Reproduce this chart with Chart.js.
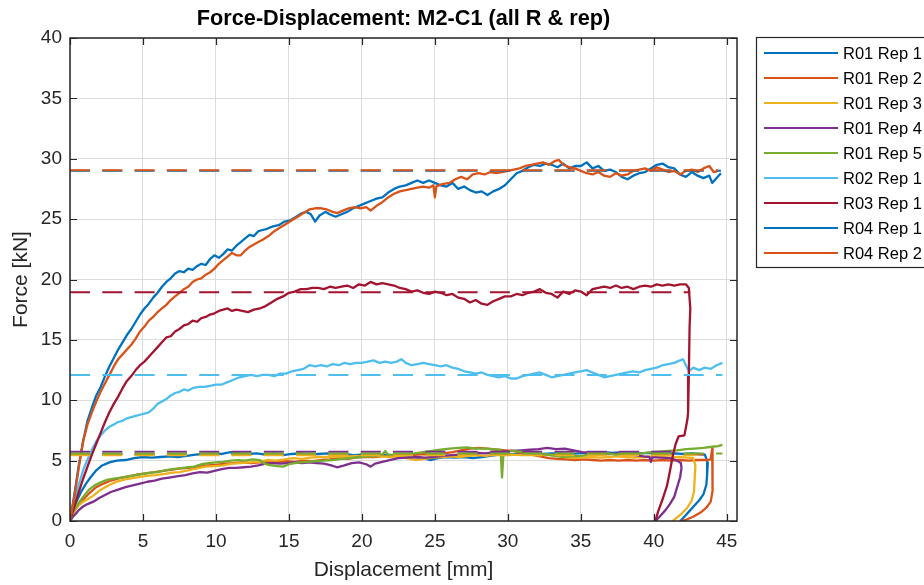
<!DOCTYPE html>
<html>
<head>
<meta charset="utf-8">
<title>Force-Displacement: M2-C1</title>
<script src="https://cdn.jsdelivr.net/npm/chart.js@4.4.0/dist/chart.umd.min.js"></script>
<style>
  html, body { margin: 0; padding: 0; background: #fff; }
  #wrap { position: relative; width: 924px; height: 585px; }
</style>
</head>
<body>
<div id="wrap"><canvas id="chartForceDisp"></canvas></div>
<script>
// ===== DATA =====

const seriesLabels = ['R01 Rep 1', 'R01 Rep 2', 'R01 Rep 3', 'R01 Rep 4', 'R01 Rep 5', 'R02 Rep 1', 'R03 Rep 1', 'R04 Rep 1', 'R04 Rep 2'];
const seriesColors = ['#0072BD', '#D95319', '#EDB120', '#7E2F8E', '#77AC30', '#4DBEEE', '#A2142F', '#0072BD', '#D95319'];

const xTickValues = [0, 5, 10, 15, 20, 25, 30, 35, 40, 45];
const yTickValues = [0, 5, 10, 15, 20, 25, 30, 35, 40];

// displacement [mm], force [kN]
const R01_REP1 = [[0,0],[0.2,0.9],[0.4,1.5],[0.6,2.0],[0.8,2.5],[1.1,3.1],[1.4,3.6],[1.8,4.2],[2.2,4.6],[2.7,4.85],[3.2,5.0],[3.8,5.05],[4.4,5.2],[5.0,5.3],[5.6,5.25],[6.2,5.3],[6.8,5.35],[7.4,5.3],[8.0,5.4],[8.6,5.5],[9.2,5.55],[9.8,5.6],[10.4,5.55],[11.0,5.7],[11.6,5.6],[12.2,5.55],[12.8,5.6],[13.4,5.5],[14.0,5.6],[14.6,5.45],[15.2,5.55],[15.8,5.6],[16.4,5.5],[17.0,5.55],[17.6,5.6],[18.2,5.5],[18.8,5.55],[19.4,5.45],[20.0,5.5],[20.6,5.55],[21.2,5.45],[21.8,5.5],[22.4,5.4],[23.0,5.45],[23.6,5.3],[24.2,5.2],[24.7,5.05],[25.2,5.2],[25.8,5.3],[26.4,5.25],[27.0,5.3],[27.6,5.2],[28.2,5.3],[28.8,5.4],[29.4,5.5],[30.0,5.5],[30.6,5.55],[31.2,5.5],[31.8,5.6],[32.4,5.55],[33.0,5.6],[33.6,5.6],[34.2,5.55],[34.8,5.6],[35.4,5.65],[36.0,5.6],[36.6,5.7],[37.2,5.65],[37.8,5.7],[38.4,5.65],[39.0,5.6],[39.6,5.65],[40.2,5.6],[40.8,5.55],[41.4,5.6],[42.0,5.55],[42.6,5.6],[43.1,5.55],[43.5,5.5],[43.7,4.8],[43.65,3.8],[43.6,3.0],[43.4,2.2],[43.1,1.7],[42.8,1.3],[42.5,0.9],[42.2,0.5],[41.9,0.1],[41.8,0]];

const R01_REP2 = [[0,0],[0.2,0.6],[0.4,1.0],[0.7,1.5],[1.0,1.9],[1.4,2.4],[1.8,2.8],[2.3,3.1],[2.8,3.35],[3.4,3.55],[4.0,3.7],[4.6,3.85],[5.2,3.95],[5.8,4.05],[6.4,4.15],[7.0,4.25],[7.6,4.35],[8.2,4.4],[8.8,4.5],[9.4,4.6],[10.0,4.65],[10.6,4.75],[11.2,4.8],[11.8,4.85],[12.4,4.8],[13.0,4.85],[13.6,4.9],[14.2,4.9],[14.8,4.95],[15.4,4.9],[16.0,5.0],[16.6,4.95],[17.2,5.05],[17.8,5.1],[18.4,5.2],[19.0,5.15],[19.6,5.25],[20.2,5.3],[20.8,5.3],[21.4,5.35],[22.0,5.4],[22.6,5.35],[23.2,5.45],[23.8,5.5],[24.4,5.55],[25.0,5.5],[25.6,5.6],[26.2,5.7],[26.8,5.85],[27.4,6.0],[28.0,6.05],[28.6,6.0],[29.2,5.9],[29.8,5.85],[30.4,5.8],[31.0,5.6],[31.6,5.5],[32.2,5.35],[32.8,5.2],[33.4,5.15],[34.0,5.1],[34.6,5.05],[35.2,5.1],[35.8,5.05],[36.4,5.0],[37.0,5.05],[37.6,5.0],[38.2,5.05],[38.8,5.0],[39.4,5.05],[40.0,5.0],[40.6,5.05],[41.2,5.0],[41.8,5.05],[42.4,5.0],[43.0,5.05],[43.6,5.05],[43.9,5.1],[44.0,6.0],[44.05,4.0],[44.0,2.5],[43.9,1.6],[43.6,1.1],[43.2,0.7],[42.7,0.35],[42.2,0.1],[41.9,0]];

const R01_REP3 = [[0,0],[0.2,0.6],[0.4,1.0],[0.6,1.3],[0.9,1.6],[1.2,1.8],[1.6,2.1],[2.0,2.5],[2.4,2.8],[2.8,3.05],[3.3,3.3],[3.8,3.45],[4.3,3.55],[4.8,3.65],[5.4,3.75],[5.9,3.8],[6.5,3.9],[7.0,4.0],[7.5,4.05],[8.1,4.2],[8.7,4.35],[9.3,4.5],[9.9,4.55],[10.5,4.6],[11.1,4.75],[11.7,4.8],[12.3,4.85],[12.9,4.9],[13.5,5.05],[14.1,5.0],[14.7,5.1],[15.3,5.2],[15.9,5.15],[16.5,5.25],[17.1,5.3],[17.7,5.3],[18.3,5.35],[18.9,5.3],[19.5,5.4],[20.1,5.35],[20.7,5.4],[21.3,5.35],[21.9,5.3],[22.5,5.35],[23.1,5.2],[23.7,5.05],[24.3,5.15],[24.9,5.25],[25.5,5.3],[26.1,5.35],[26.7,5.3],[27.3,5.4],[27.9,5.45],[28.5,5.4],[29.1,5.5],[29.7,5.45],[30.3,5.5],[30.9,5.45],[31.5,5.5],[32.1,5.45],[32.7,5.5],[33.3,5.45],[33.9,5.3],[34.5,5.2],[35.1,5.25],[35.7,5.3],[36.3,5.25],[36.9,5.3],[37.5,5.35],[38.1,5.3],[38.7,5.25],[39.3,5.3],[39.9,5.35],[40.5,5.3],[41.1,5.25],[41.7,5.3],[42.3,5.25],[42.7,5.2],[42.85,4.6],[42.8,3.5],[42.75,2.4],[42.6,1.7],[42.3,1.1],[41.9,0.6],[41.5,0.2],[41.3,0]];

const R01_REP4 = [[0,0],[0.2,0.35],[0.4,0.6],[0.6,0.9],[0.9,1.2],[1.2,1.4],[1.6,1.6],[2.0,1.9],[2.4,2.15],[2.8,2.4],[3.3,2.6],[3.8,2.8],[4.3,2.95],[4.8,3.1],[5.3,3.25],[5.8,3.35],[6.3,3.5],[6.8,3.6],[7.3,3.7],[7.9,3.8],[8.4,3.95],[8.9,4.05],[9.4,4.0],[9.9,4.15],[10.4,4.3],[10.9,4.4],[11.4,4.4],[11.9,4.45],[12.4,4.5],[12.9,4.6],[13.4,4.75],[13.9,4.8],[14.4,4.75],[14.9,4.8],[15.4,4.85],[15.9,4.8],[16.4,4.85],[16.9,4.8],[17.4,4.75],[17.9,4.6],[18.3,4.45],[18.8,4.6],[19.3,4.8],[19.8,4.85],[20.3,4.7],[20.6,4.5],[20.9,4.75],[21.4,4.9],[21.9,5.05],[22.5,5.2],[23.1,5.25],[23.7,5.3],[24.3,5.25],[24.9,5.3],[25.5,5.4],[26.1,5.45],[26.7,5.5],[27.3,5.6],[27.9,5.65],[28.5,5.6],[29.1,5.7],[29.7,5.75],[30.3,5.8],[30.9,5.85],[31.5,5.9],[32.1,5.95],[32.7,6.05],[33.3,5.95],[33.9,6.0],[34.5,5.85],[35.1,5.7],[35.7,5.65],[36.3,5.6],[36.9,5.55],[37.5,5.6],[38.1,5.5],[38.7,5.45],[39.3,5.35],[39.7,5.3],[39.8,4.9],[39.9,5.3],[40.5,5.25],[41.1,5.2],[41.6,5.0],[41.85,4.8],[41.9,4.4],[41.8,3.6],[41.6,2.8],[41.4,2.0],[41.1,1.4],[40.8,0.9],[40.5,0.5],[40.2,0.1],[40.1,0]];

const R01_REP5 = [[0,0],[0.2,0.7],[0.4,1.1],[0.6,1.5],[0.9,2.0],[1.3,2.6],[1.7,2.95],[2.1,3.2],[2.5,3.4],[3.0,3.5],[3.5,3.6],[4.0,3.7],[4.5,3.8],[5.0,3.9],[5.5,4.0],[6.0,4.05],[6.5,4.2],[7.0,4.3],[7.5,4.35],[8.0,4.45],[8.5,4.5],[9.0,4.7],[9.5,4.8],[10.0,4.85],[10.5,4.9],[11.0,5.0],[11.5,5.05],[12.0,5.0],[12.5,5.1],[13.0,5.05],[13.4,4.7],[13.8,4.6],[14.2,4.55],[14.6,4.5],[15.0,4.7],[15.4,4.8],[15.8,4.85],[16.2,4.9],[16.8,4.95],[17.4,5.0],[18.0,5.05],[18.6,5.15],[19.2,5.2],[19.8,5.3],[20.4,5.35],[21.0,5.4],[21.4,5.5],[21.6,5.8],[21.8,5.45],[22.4,5.5],[23.0,5.55],[23.6,5.6],[24.2,5.7],[24.8,5.8],[25.4,5.9],[26.0,6.0],[26.6,6.05],[27.2,6.1],[27.8,6.0],[28.4,6.0],[29.0,5.95],[29.5,5.9],[29.6,3.6],[29.7,5.6],[30.2,5.8],[30.8,5.75],[31.4,5.7],[32.0,5.6],[32.6,5.5],[33.2,5.4],[33.8,5.3],[34.4,5.35],[35.0,5.4],[35.6,5.5],[36.2,5.55],[36.8,5.6],[37.4,5.5],[38.0,5.6],[38.6,5.55],[39.2,5.6],[39.8,5.7],[40.4,5.75],[41.0,5.8],[41.6,5.85],[42.2,5.95],[42.8,6.0],[43.4,6.05],[44.0,6.15],[44.4,6.2],[44.7,6.3]];

const R02_REP1 = [[0,0],[0.3,1.6],[0.6,3.0],[0.9,4.2],[1.2,5.1],[1.5,5.9],[1.8,6.6],[2.1,7.1],[2.4,7.5],[2.7,7.8],[3.0,8.0],[3.3,8.2],[3.6,8.3],[3.9,8.5],[4.2,8.6],[4.5,8.7],[4.8,8.8],[5.1,8.9],[5.4,9.0],[5.7,9.3],[6.0,9.7],[6.3,9.9],[6.6,10.1],[6.9,10.4],[7.2,10.6],[7.5,10.7],[7.8,10.9],[8.1,10.8],[8.4,11.0],[8.8,11.1],[9.2,11.1],[9.6,11.2],[10.0,11.3],[10.4,11.3],[10.8,11.5],[11.2,11.7],[11.6,11.9],[12.0,12.0],[12.4,12.1],[12.8,12.0],[13.2,12.1],[13.6,12.1],[14.0,12.0],[14.4,12.2],[14.8,12.2],[15.2,12.4],[15.6,12.5],[16.0,12.6],[16.4,12.9],[16.8,12.8],[17.2,12.9],[17.6,12.8],[18.0,13.0],[18.4,12.9],[18.8,13.1],[19.2,13.0],[19.6,13.1],[20.0,13.1],[20.4,13.2],[20.8,13.3],[21.2,13.1],[21.6,13.2],[22.0,13.1],[22.4,13.2],[22.7,13.4],[23.0,13.1],[23.4,12.9],[23.8,13.0],[24.2,13.1],[24.6,13.0],[25.0,12.9],[25.4,12.8],[25.8,12.9],[26.2,12.7],[26.6,12.6],[27.0,12.4],[27.4,12.3],[27.8,12.2],[28.2,12.3],[28.6,12.1],[29.0,12.0],[29.4,11.9],[29.8,12.0],[30.2,11.8],[30.6,11.8],[31.0,12.0],[31.4,12.1],[31.8,12.2],[32.2,12.3],[32.6,12.1],[33.0,11.9],[33.4,12.0],[33.8,12.1],[34.2,12.2],[34.6,12.3],[35.0,12.4],[35.4,12.5],[35.8,12.3],[36.2,12.1],[36.6,11.9],[37.0,12.0],[37.4,12.1],[37.8,12.2],[38.2,12.3],[38.6,12.4],[39.0,12.3],[39.4,12.5],[39.8,12.6],[40.2,12.7],[40.6,12.9],[41.0,13.0],[41.4,13.1],[41.8,13.3],[42.0,13.4],[42.2,12.9],[42.4,12.4],[42.7,12.7],[43.1,12.5],[43.5,12.7],[43.9,12.6],[44.3,12.9],[44.7,13.1]];

const R03_REP1 = [[0,0],[0.3,1.2],[0.6,2.4],[0.9,3.5],[1.2,4.5],[1.5,5.5],[1.8,6.4],[2.1,7.3],[2.4,8.2],[2.7,9.0],[3.0,9.7],[3.3,10.3],[3.6,11.0],[3.9,11.6],[4.2,12.0],[4.5,12.5],[4.8,12.9],[5.1,13.2],[5.4,13.6],[5.7,14.0],[6.0,14.4],[6.3,14.8],[6.6,15.2],[6.9,15.3],[7.2,15.7],[7.5,15.9],[7.8,16.2],[8.1,16.3],[8.4,16.6],[8.7,16.5],[9.0,16.8],[9.3,16.9],[9.6,17.1],[9.9,17.2],[10.2,17.4],[10.5,17.5],[10.8,17.6],[11.1,17.4],[11.4,17.5],[11.8,17.4],[12.2,17.3],[12.6,17.5],[13.0,17.6],[13.4,17.8],[13.8,18.1],[14.2,18.4],[14.6,18.6],[15.0,18.9],[15.4,19.0],[15.8,19.2],[16.2,19.2],[16.6,19.3],[17.0,19.3],[17.4,19.2],[17.8,19.4],[18.2,19.3],[18.6,19.4],[19.0,19.5],[19.4,19.3],[19.8,19.6],[20.2,19.5],[20.6,19.8],[21.0,19.6],[21.4,19.7],[21.8,19.6],[22.2,19.5],[22.6,19.3],[23.0,19.2],[23.4,19.0],[23.8,19.1],[24.2,18.9],[24.6,18.8],[25.0,19.0],[25.4,18.9],[25.8,18.7],[26.2,18.8],[26.6,18.5],[27.0,18.4],[27.4,18.1],[27.8,18.3],[28.2,18.0],[28.6,17.9],[29.0,18.2],[29.4,18.4],[29.8,18.6],[30.2,18.6],[30.6,18.8],[31.0,18.7],[31.4,18.9],[31.8,19.0],[32.2,19.2],[32.6,18.9],[33.0,18.8],[33.4,18.5],[33.8,19.0],[34.2,18.8],[34.6,19.1],[35.0,19.0],[35.4,18.7],[35.8,19.2],[36.2,19.3],[36.6,19.4],[37.0,19.3],[37.4,19.5],[37.8,19.3],[38.2,19.4],[38.6,19.2],[39.0,19.4],[39.4,19.5],[39.8,19.4],[40.2,19.6],[40.6,19.5],[41.0,19.6],[41.4,19.5],[41.8,19.6],[42.2,19.6],[42.4,19.3],[42.5,17.6],[42.45,16.0],[42.4,12.0],[42.35,9.0],[42.3,8.4],[42.1,7.1],[41.7,7.0],[41.5,6.4],[41.3,5.4],[41.1,4.1],[40.9,2.9],[40.6,1.8],[40.3,0.8],[40.1,0]];

const R04_REP1 = [[0,0],[0.3,2.2],[0.6,4.6],[0.9,6.6],[1.2,8.3],[1.5,9.4],[1.8,10.4],[2.1,11.1],[2.4,12.0],[2.7,12.8],[3.0,13.5],[3.3,14.2],[3.6,14.8],[3.9,15.4],[4.2,15.9],[4.5,16.5],[4.8,17.1],[5.1,17.6],[5.4,18.0],[5.7,18.5],[6.0,18.9],[6.3,19.4],[6.6,19.8],[6.9,20.1],[7.2,20.5],[7.5,20.7],[7.8,20.6],[8.1,20.9],[8.4,20.8],[8.7,21.1],[9.0,21.3],[9.3,21.2],[9.6,21.7],[9.9,22.0],[10.2,21.8],[10.5,22.1],[10.8,22.5],[11.1,22.4],[11.4,22.8],[11.7,23.1],[12.0,23.4],[12.3,23.7],[12.6,23.6],[12.9,24.0],[13.2,24.1],[13.5,24.2],[13.9,24.4],[14.3,24.5],[14.7,24.8],[15.1,24.9],[15.5,25.2],[15.9,25.5],[16.2,25.6],[16.5,25.4],[16.8,24.8],[17.1,25.3],[17.5,25.6],[17.8,25.4],[18.2,25.2],[18.6,25.4],[19.0,25.6],[19.4,25.9],[19.8,26.1],[20.2,26.3],[20.6,26.5],[21.0,26.7],[21.4,26.8],[21.8,27.2],[22.2,27.5],[22.6,27.7],[23.0,27.8],[23.4,28.0],[23.8,28.2],[24.2,28.0],[24.6,28.2],[25.0,28.0],[25.4,27.8],[25.8,27.7],[26.2,28.0],[26.6,27.5],[27.0,27.7],[27.4,27.4],[27.8,27.2],[28.2,27.3],[28.6,27.0],[29.0,27.3],[29.4,27.5],[29.8,27.8],[30.2,28.3],[30.6,28.8],[31.0,29.0],[31.4,29.3],[31.8,29.5],[32.2,29.4],[32.6,29.6],[33.0,29.5],[33.4,29.3],[33.8,29.6],[34.2,29.2],[34.6,29.4],[35.0,29.4],[35.4,29.7],[35.8,29.2],[36.2,29.4],[36.6,29.0],[37.0,29.1],[37.4,28.9],[37.8,28.5],[38.2,28.3],[38.6,28.6],[39.0,28.8],[39.4,28.9],[39.8,29.2],[40.2,29.5],[40.6,29.6],[41.0,29.3],[41.4,29.2],[41.8,28.7],[42.2,28.5],[42.6,28.9],[43.0,28.6],[43.4,28.4],[43.8,28.6],[44.0,28.0],[44.3,28.4],[44.6,28.8]];

const R04_REP2 = [[0,0],[0.3,2.0],[0.6,4.4],[0.9,6.6],[1.2,8.0],[1.5,9.0],[1.8,9.9],[2.1,10.7],[2.4,11.4],[2.7,12.1],[3.0,12.8],[3.3,13.4],[3.6,13.8],[3.9,14.2],[4.2,14.6],[4.5,15.1],[4.8,15.7],[5.1,16.1],[5.4,16.6],[5.7,16.9],[6.0,17.3],[6.3,17.6],[6.6,17.9],[6.9,18.3],[7.2,18.6],[7.5,18.9],[7.8,19.2],[8.1,19.4],[8.4,19.8],[8.7,20.0],[9.0,20.1],[9.3,20.4],[9.6,20.6],[9.9,20.9],[10.2,21.3],[10.5,21.6],[10.8,21.9],[11.1,22.2],[11.4,22.0],[11.7,22.0],[12.0,22.4],[12.3,22.7],[12.6,22.9],[12.9,23.1],[13.2,23.3],[13.6,23.6],[14.0,24.0],[14.4,24.3],[14.8,24.6],[15.2,24.9],[15.6,25.2],[16.0,25.5],[16.4,25.8],[16.8,25.9],[17.2,25.9],[17.6,25.8],[18.0,25.6],[18.3,25.5],[18.7,25.7],[19.1,25.9],[19.5,26.0],[19.9,25.9],[20.3,26.0],[20.6,25.7],[21.0,26.1],[21.4,26.4],[21.8,26.8],[22.2,27.1],[22.6,27.3],[23.0,27.4],[23.4,27.5],[23.8,27.6],[24.2,27.7],[24.6,27.6],[24.9,27.8],[25.0,26.8],[25.1,27.7],[25.5,27.9],[26.0,28.0],[26.4,28.3],[26.8,28.5],[27.2,28.3],[27.6,28.7],[28.0,28.8],[28.4,28.7],[28.8,28.9],[29.2,28.8],[29.6,28.9],[30.0,29.0],[30.4,29.1],[30.8,29.2],[31.2,29.4],[31.6,29.5],[32.0,29.6],[32.4,29.7],[32.8,29.5],[33.2,29.8],[33.5,29.9],[33.8,29.5],[34.2,29.3],[34.6,29.2],[35.0,29.0],[35.4,28.8],[35.8,28.7],[36.2,28.9],[36.6,28.6],[37.0,28.5],[37.4,28.8],[37.8,28.6],[38.2,28.7],[38.6,29.0],[39.0,29.1],[39.4,29.2],[39.8,29.0],[40.2,29.3],[40.6,29.1],[41.0,28.9],[41.4,29.0],[41.8,28.7],[42.2,29.0],[42.6,29.1],[43.0,28.9],[43.4,29.2],[43.8,29.4],[44.1,28.9],[44.4,29.0]];

const seriesPoints = [R01_REP1, R01_REP2, R01_REP3, R01_REP4, R01_REP5, R02_REP1, R03_REP1, R04_REP1, R04_REP2];

// plateau force (dashed) per series and where each dashed line stops
const meanLevels = [5.55, 5.5, 5.45, 5.74, 5.6, 12.09, 18.94, 29.0, 29.05];
const meanEnds = [43.7, 44.05, 42.85, 41.9, 44.7, 44.7, 42.5, 44.6, 44.4];

// ===== CHART =====

const FONT = "'Liberation Sans', Arial, Helvetica, sans-serif";
const AXIS_INK = '#262626';

const datasets = [];
seriesPoints.forEach((pts, i) => {
  datasets.push({
    label: seriesLabels[i],
    data: pts.map(([x, y]) => ({ x, y })),
    borderColor: seriesColors[i],
    borderWidth: 2.3,
    showLine: true, pointRadius: 0, tension: 0,
    borderJoinStyle: 'round'
  });
});
meanLevels.forEach((lvl, i) => {
  datasets.push({
    label: seriesLabels[i] + ' mean',
    data: [{ x: 0, y: lvl }, { x: meanEnds[i], y: lvl }],
    borderColor: seriesColors[i],
    borderWidth: 2,
    borderDash: [20, 12.3],
    showLine: true, pointRadius: 0, tension: 0
  });
});
// later datasets paint over earlier ones
datasets.forEach((d, i) => { d.order = datasets.length - i; });

// box, inward ticks, title and legend
const frameAndLegend = {
  id: 'frameAndLegend',
  afterDraw(chart) {
    const { ctx, chartArea: a, scales } = chart;
    ctx.save();

    ctx.strokeStyle = AXIS_INK;
    ctx.lineWidth = 1.5;
    ctx.strokeRect(a.left, a.top, a.right - a.left, a.bottom - a.top);

    const tl = 7;
    ctx.lineWidth = 1.2;
    ctx.beginPath();
    xTickValues.forEach(v => {
      const px = Math.round(scales.x.getPixelForValue(v)) + 0.5;
      ctx.moveTo(px, a.bottom); ctx.lineTo(px, a.bottom - tl);
      ctx.moveTo(px, a.top); ctx.lineTo(px, a.top + tl);
    });
    yTickValues.forEach(v => {
      const py = Math.round(scales.y.getPixelForValue(v)) + 0.5;
      ctx.moveTo(a.left, py); ctx.lineTo(a.left + tl, py);
      ctx.moveTo(a.right, py); ctx.lineTo(a.right - tl, py);
    });
    ctx.stroke();

    // title
    ctx.fillStyle = '#000';
    ctx.font = 'bold 21.7px ' + FONT;
    ctx.textAlign = 'center';
    ctx.textBaseline = 'middle';
    ctx.fillText('Force-Displacement: M2-C1 (all R & rep)', (a.left + a.right) / 2, 19);

    // legend
    const lx = 756.5, ly = 37.5, rowH = 25, firstRow = 53;
    ctx.fillStyle = '#fff';
    ctx.fillRect(lx, ly, 220, 230);
    ctx.strokeStyle = AXIS_INK;
    ctx.lineWidth = 1.2;
    ctx.strokeRect(lx, ly, 220, 230);
    ctx.font = '16.5px ' + FONT;
    ctx.textAlign = 'left';
    seriesLabels.forEach((lab, i) => {
      const y = firstRow + i * rowH;
      ctx.strokeStyle = seriesColors[i];
      ctx.lineWidth = 2;
      ctx.beginPath();
      ctx.moveTo(764, y); ctx.lineTo(838, y);
      ctx.stroke();
      ctx.fillStyle = '#000';
      ctx.fillText(lab, 843, y + 1);
    });
    ctx.restore();
  }
};

new Chart(document.getElementById('chartForceDisp'), {
  type: 'scatter',
  data: { datasets },
  options: {
    responsive: true, maintainAspectRatio: false,
    animation: false,
    events: [],
    layout: { padding: { left: 0, right: 187, top: 38, bottom: 0 } },
    plugins: { legend: { display: false }, title: { display: false }, tooltip: { enabled: false } },
    scales: {
      x: {
        type: 'linear', min: 0, max: 45.7,
        afterBuildTicks: s => { s.ticks = xTickValues.map(v => ({ value: v })); },
        afterFit: s => { s.height = 64; },
        ticks: { font: { family: FONT, size: 19 }, color: AXIS_INK, padding: 9, maxRotation: 0, autoSkip: false, includeBounds: false },
        grid: { color: '#dcdcdc', drawTicks: false },
        border: { display: false },
        title: { display: true, text: 'Displacement [mm]', font: { family: FONT, size: 21 }, color: AXIS_INK, padding: { top: 0, bottom: 2 } }
      },
      y: {
        type: 'linear', min: 0, max: 40,
        afterBuildTicks: s => { s.ticks = yTickValues.map(v => ({ value: v })); },
        afterFit: s => { s.width = 70; },
        ticks: { font: { family: FONT, size: 19 }, color: AXIS_INK, padding: 8, autoSkip: false, includeBounds: false },
        grid: { color: '#dcdcdc', drawTicks: false },
        border: { display: false },
        title: { display: true, text: 'Force [kN]', font: { family: FONT, size: 21 }, color: AXIS_INK, padding: { top: 9, bottom: 0 } }
      }
    }
  },
  plugins: [frameAndLegend]
});
</script>
</body>
</html>
